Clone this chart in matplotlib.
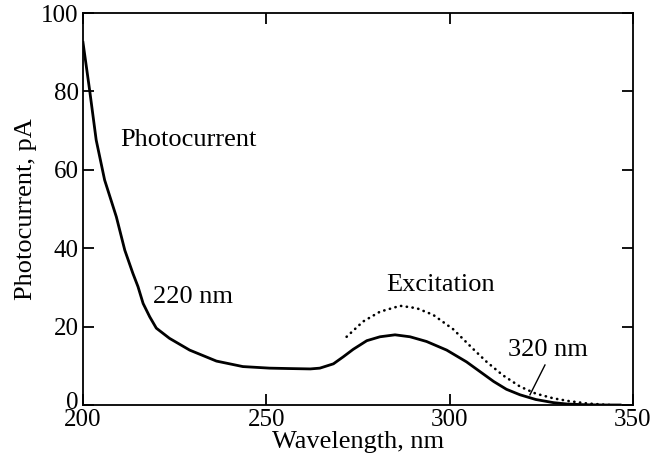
import numpy as np
import matplotlib
matplotlib.use("Agg")
import matplotlib.pyplot as plt
import matplotlib.transforms as mtransforms

plt.rcParams['font.family'] = ['Liberation Serif', 'DejaVu Serif']
plt.rcParams['font.size'] = 19

# photocurrent spectrum (solid)
wl_pc = [200.0, 201.8, 203.6, 205.9, 209.1, 211.4, 213.6, 215.0, 216.4, 218.2,
         220.0, 223.6, 229.1, 236.4, 243.6, 250.9, 256.0, 262.0, 264.6, 268.3,
         271.0, 273.7, 277.4, 281.0, 285.1, 289.2, 293.7, 299.2, 304.6, 308.3,
         312.0, 315.5, 319.2, 323.5, 328.3, 332.0, 337.4, 342.0, 346.5]
pc = [92.5, 80.4, 67.6, 57.4, 48.0, 39.5, 33.6, 30.2, 25.9, 22.5,
      19.6, 17.0, 14.0, 11.2, 9.8, 9.4, 9.3, 9.2, 9.4, 10.5,
      12.3, 14.2, 16.4, 17.4, 17.9, 17.4, 16.2, 14.0, 11.0, 8.5,
      6.0, 4.0, 2.6, 1.4, 0.6, 0.25, 0.05, 0.0, 0.0]

# excitation spectrum (dotted)
wl_ex = [271.9, 276.4, 281.0, 286.5, 291.0, 295.5, 301.0, 306.4, 310.1, 314.5,
         319.2, 323.5, 328.3, 332.5, 337.4, 341.9, 344.0]
ex = [17.4, 21.3, 23.8, 25.3, 24.7, 23.0, 19.3, 14.3, 11.0, 7.6,
      4.7, 2.9, 1.7, 1.0, 0.4, 0.1, 0.0]

fig = plt.figure(figsize=(6.66, 4.61), dpi=100)
ax = fig.add_axes([0.1246, 0.1215, 0.8258, 0.8503])

ax.plot(wl_pc, pc, color='black', lw=2.0, solid_joinstyle='round')
ax.plot(wl_ex, ex, color='black', lw=1.9, linestyle=(0, (0.1, 2.1)),
        dash_capstyle='round')

ax.set_xlim(200, 350)
ax.set_ylim(0, 100)
ax.set_xticks([200, 250, 300, 350])
ax.set_yticks([0, 20, 40, 60, 80, 100])
ax.tick_params(direction='in', length=8, width=1.3, top=True, right=True,
               pad=3, labelsize=18)
for s in ax.spines.values():
    s.set_linewidth(1.3)

# "0" sits just above the "200" in the corner
lbl0 = ax.get_yticklabels()[0]
lbl0.set_transform(lbl0.get_transform() +
                   mtransforms.ScaledTranslation(0, 3 / 72, fig.dpi_scale_trans))

ax.set_xlabel('Wavelength, nm', labelpad=0)
ax.set_ylabel('Photocurrent, pA', labelpad=3)

ax.text(210.1, 67.6, 'Photocurrent', ha='left', va='center')
ax.text(219.1, 27.6, '220 nm', ha='left', va='center')
ax.text(282.8, 30.6, 'Excitation', ha='left', va='center')
ax.text(315.9, 14.0, '320 nm', ha='left', va='center')
ax.plot([326.0, 321.9], [10.2, 2.6], color='black', lw=1.0)

fig.savefig('out.png', dpi=100)
